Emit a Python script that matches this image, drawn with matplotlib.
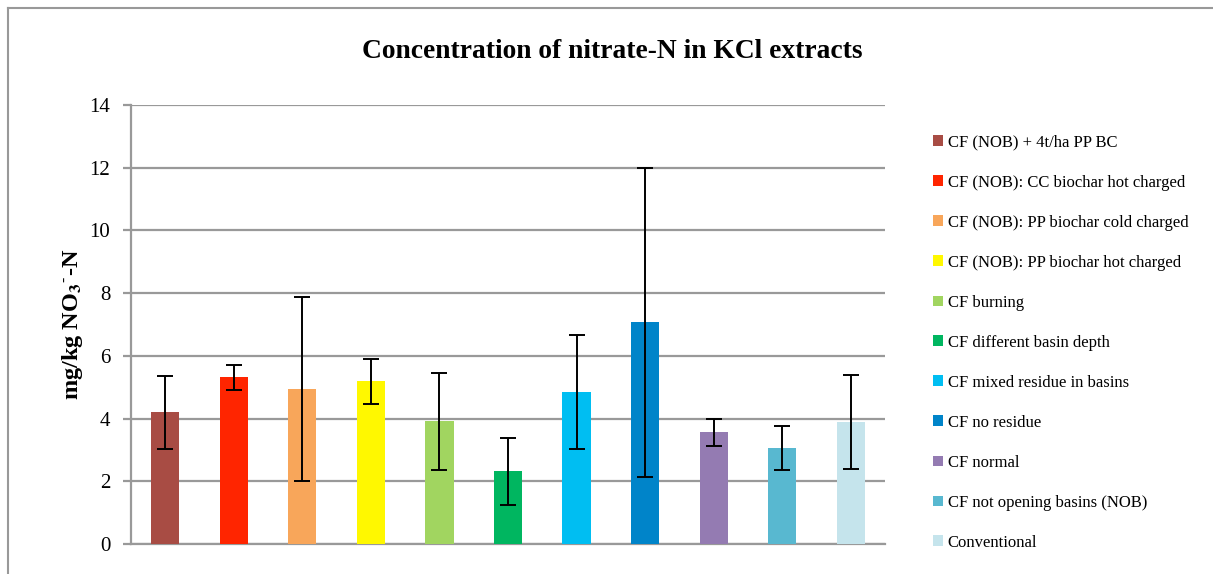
import numpy as np
import matplotlib.pyplot as plt
from matplotlib.lines import Line2D

# data
treatments = ['CF (NOB) + 4t/ha PP BC',
              'CF (NOB): CC biochar hot charged',
              'CF (NOB): PP biochar cold charged',
              'CF (NOB): PP biochar hot charged',
              'CF burning',
              'CF different basin depth',
              'CF mixed residue in basins',
              'CF no residue',
              'CF normal',
              'CF not opening basins (NOB)',
              'Conventional']
nitrate = [4.20, 5.31, 4.94, 5.19, 3.91, 2.32, 4.85, 7.07, 3.57, 3.05, 3.88]
sd = [1.16, 0.40, 2.93, 0.72, 1.55, 1.07, 1.81, 4.92, 0.43, 0.70, 1.50]
colors = ['#A84C44', '#FF2500', '#F8A65A', '#FFF800', '#A1D560', '#00B660',
          '#00BEF2', '#0084C9', '#947BB2', '#58B8D0', '#C5E4EC']

plt.rcParams['font.family'] = 'Liberation Serif'
plt.rcParams['mathtext.fontset'] = 'stix'

fig = plt.figure(figsize=(12.13, 5.74), dpi=100)
ax = fig.add_axes([131/1213, 30/574, 754/1213, 439/574])

x = np.arange(len(treatments))
for i in range(len(treatments)):
    ax.bar(x[i], nitrate[i], width=0.41, color=colors[i], label=treatments[i], zorder=3)
    ax.errorbar(x[i], nitrate[i], yerr=sd[i], fmt='none', ecolor='black',
                elinewidth=1.4, capsize=5.5, capthick=1.4, zorder=4)

ax.set_xlim(-0.5, len(treatments) - 0.5)
ax.set_ylim(0, 14)
ax.set_yticks(range(0, 15, 2))
ax.set_xticks([])
ax.grid(axis='y', color='#999999', linewidth=1.6, zorder=0)
for s in ['top', 'right']:
    ax.spines[s].set_visible(False)
ax.spines['left'].set_color('#999999')
ax.spines['left'].set_linewidth(1.6)
ax.spines['bottom'].set_color('#999999')
ax.spines['bottom'].set_linewidth(1.6)
ax.tick_params(axis='y', length=6, width=1.6, color='#999999', labelsize=15, pad=9)

ax.set_ylabel(r'mg/kg NO$_\mathbf{3}$$^{\mathbf{\text{-}}}$-N', fontsize=17.5, fontweight='bold', labelpad=3)
fig.text(612/1213, 1 - 52/574, 'Concentration of nitrate-N in KCl extracts',
         ha='center', va='center', fontsize=19.8, fontweight='bold')

leg = ax.legend(loc='upper left', bbox_to_anchor=(926/1213, 1 - 128/574),
                bbox_transform=fig.transFigure, frameon=False, fontsize=12,
                handlelength=0.6, handleheight=0.6, handletextpad=0.3,
                labelspacing=1.44, borderaxespad=0)

# outer chart frame
fig.add_artist(Line2D([8/1213, 8/1213], [0, 1 - 8/574], color='#999999', linewidth=1.5,
                      transform=fig.transFigure))
fig.add_artist(Line2D([8/1213, 1], [1 - 8/574, 1 - 8/574], color='#999999', linewidth=1.5,
                      transform=fig.transFigure))

fig.savefig('out.png', dpi=100)
